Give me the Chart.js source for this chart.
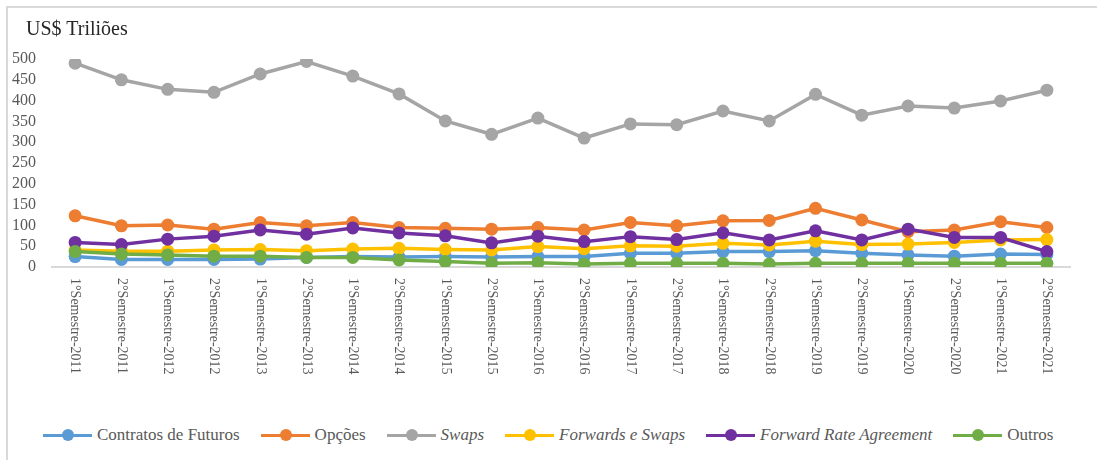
<!DOCTYPE html>
<html lang="pt">
<head>
<meta charset="utf-8">
<title>Derivativos OTC</title>
<script src="https://cdn.jsdelivr.net/npm/chart.js@4.4.1/dist/chart.umd.min.js"></script>
<style>
  html, body { margin: 0; padding: 0; background: #fff; }
  #wrap { position: relative; width: 1097px; height: 460px; overflow: hidden; }
  #frame {
    position: absolute; left: 6px; top: 6px; width: 1120px; height: 480px;
    border-left: 2px solid #d9d9d9; border-top: 2px solid #d9d9d9;
  }
  #grafico { position: absolute; left: 0; top: 0; }
  #titulo {
    position: absolute; left: 26px; top: 17px;
    font: 20px "Liberation Serif", "Times New Roman", serif; color: #262626;
  }
  #legenda {
    position: absolute; left: 43px; top: 425px; display: flex; align-items: center; gap: 21px;
    font: 17px "Liberation Serif", "Times New Roman", serif; color: #595959; white-space: nowrap;
  }
  .item { display: flex; align-items: center; }
  .marca { position: relative; width: 49px; height: 3px; margin-right: 5px; }
  .marca span { position: absolute; left: 19px; top: -5px; width: 12px; height: 12px; border-radius: 50%; }
  .it { font-style: italic; }
</style>
</head>
<body>
<div id="wrap">
  <div id="frame"></div>
  <canvas id="grafico" width="1097" height="400"></canvas>
  <div id="titulo">US$ Triliões</div>
  <div id="legenda"></div>
</div>
<script>
// Semestres e valores nocionais (US$ trilhões) por tipo de contrato
const semestres = [
  "1°Semestre-2011", "2°Semestre-2011", "1°Semestre-2012", "2°Semestre-2012",
  "1°Semestre-2013", "2°Semestre-2013", "1°Semestre-2014", "2°Semestre-2014",
  "1°Semestre-2015", "2°Semestre-2015", "1°Semestre-2016", "2°Semestre-2016",
  "1°Semestre-2017", "2°Semestre-2017", "1°Semestre-2018", "2°Semestre-2018",
  "1°Semestre-2019", "2°Semestre-2019", "1°Semestre-2020", "2°Semestre-2020",
  "1°Semestre-2021", "2°Semestre-2021",
];

const futuros = [25, 18, 18, 18, 19, 23, 25, 24, 25, 24, 25, 25, 33, 33, 37, 37, 39, 33, 29, 26, 31, 30];
const opcoes = [123, 99, 101, 91, 107, 99, 107, 95, 93, 91, 95, 89, 107, 99, 111, 112, 141, 113, 85, 89, 109, 95];
const swaps = [490, 450, 427, 420, 464, 494, 459, 416, 351, 319, 358, 310, 344, 342, 375, 351, 415, 365, 387, 382, 399, 425];
const forwards = [41, 38, 38, 41, 42, 39, 43, 45, 42, 41, 49, 44, 51, 50, 57, 53, 62, 54, 55, 59, 65, 66];
const fra = [59, 54, 67, 74, 89, 79, 94, 82, 75, 58, 74, 61, 73, 66, 82, 65, 87, 65, 91, 71, 71, 37];
const outros = [37, 31, 29, 26, 26, 23, 23, 17, 13, 9, 10, 7, 9, 9, 9, 7, 9, 9, 9, 9, 9, 9];

const yTicks = [0, 50, 100, 150, 200, 250, 300, 350, 400, 450, 500];

const series = [
  { nome: "Contratos de Futuros", dados: futuros, cor: "#5b9bd5", italico: false },
  { nome: "Opções", dados: opcoes, cor: "#ed7d31", italico: false },
  { nome: "Swaps", dados: swaps, cor: "#a5a5a5", italico: true },
  { nome: "Forwards e Swaps", dados: forwards, cor: "#ffc000", italico: true },
  { nome: "Forward Rate Agreement", dados: fra, cor: "#7030a0", italico: true },
  { nome: "Outros", dados: outros, cor: "#70ad47", italico: false },
];

const FONTE = "'Liberation Serif', 'Times New Roman', serif";

// rótulos do eixo x girados 90° no sentido horário
const rotulosVerticais = {
  id: "rotulosVerticais",
  afterDraw(chart) {
    const eixo = chart.scales.x;
    const ctx = chart.ctx;
    ctx.save();
    ctx.font = "14px " + FONTE;
    ctx.fillStyle = "#595959";
    ctx.textAlign = "left";
    ctx.textBaseline = "middle";
    eixo.ticks.forEach((t, i) => {
      ctx.save();
      ctx.translate(eixo.getPixelForTick(i), eixo.top + 11);
      ctx.rotate(Math.PI / 2);
      ctx.fillText(eixo.getLabelForValue(t.value), 0, 0);
      ctx.restore();
    });
    ctx.restore();
  },
};

const chart = new Chart(document.getElementById("grafico"), {
  type: "line",
  data: {
    labels: semestres,
    datasets: series.map((s, i) => ({
      label: s.nome,
      data: s.dados,
      borderColor: s.cor,
      backgroundColor: s.cor,
      borderWidth: 3.5,
      pointRadius: 6.5,
      pointBorderWidth: 0,
      pointBackgroundColor: s.cor,
      tension: 0,
      order: series.length - i,
    })),
  },
  options: {
    responsive: false,
    animation: false,
    layout: { padding: { top: 59, right: 27, bottom: 0, left: 0 } },
    plugins: { legend: { display: false }, tooltip: { enabled: false } },
    scales: {
      x: {
        offset: true,
        grid: { display: false, drawTicks: false },
        border: { display: true, color: "#d9d9d9", width: 2 },
        ticks: { display: false },
        afterFit(scale) { scale.height = 133; },
      },
      y: {
        min: 0,
        max: 500,
        grid: { display: false, drawTicks: false },
        border: { display: false },
        afterBuildTicks(scale) { scale.ticks = yTicks.map((v) => ({ value: v })); },
        ticks: { color: "#595959", font: { family: FONTE, size: 16 }, padding: 16, autoSkip: false },
        afterFit(scale) { scale.width = 52; },
      },
    },
  },
  plugins: [rotulosVerticais],
});

// legenda em HTML para manter itálico por série
document.getElementById("legenda").innerHTML = chart.data.datasets
  .map((ds, i) => {
    const cls = series[i].italico ? "it" : "";
    return `<div class="item"><div class="marca" style="background:${ds.borderColor}"><span style="background:${ds.borderColor}"></span></div><span class="${cls}">${ds.label}</span></div>`;
  })
  .join("");
</script>
</body>
</html>
